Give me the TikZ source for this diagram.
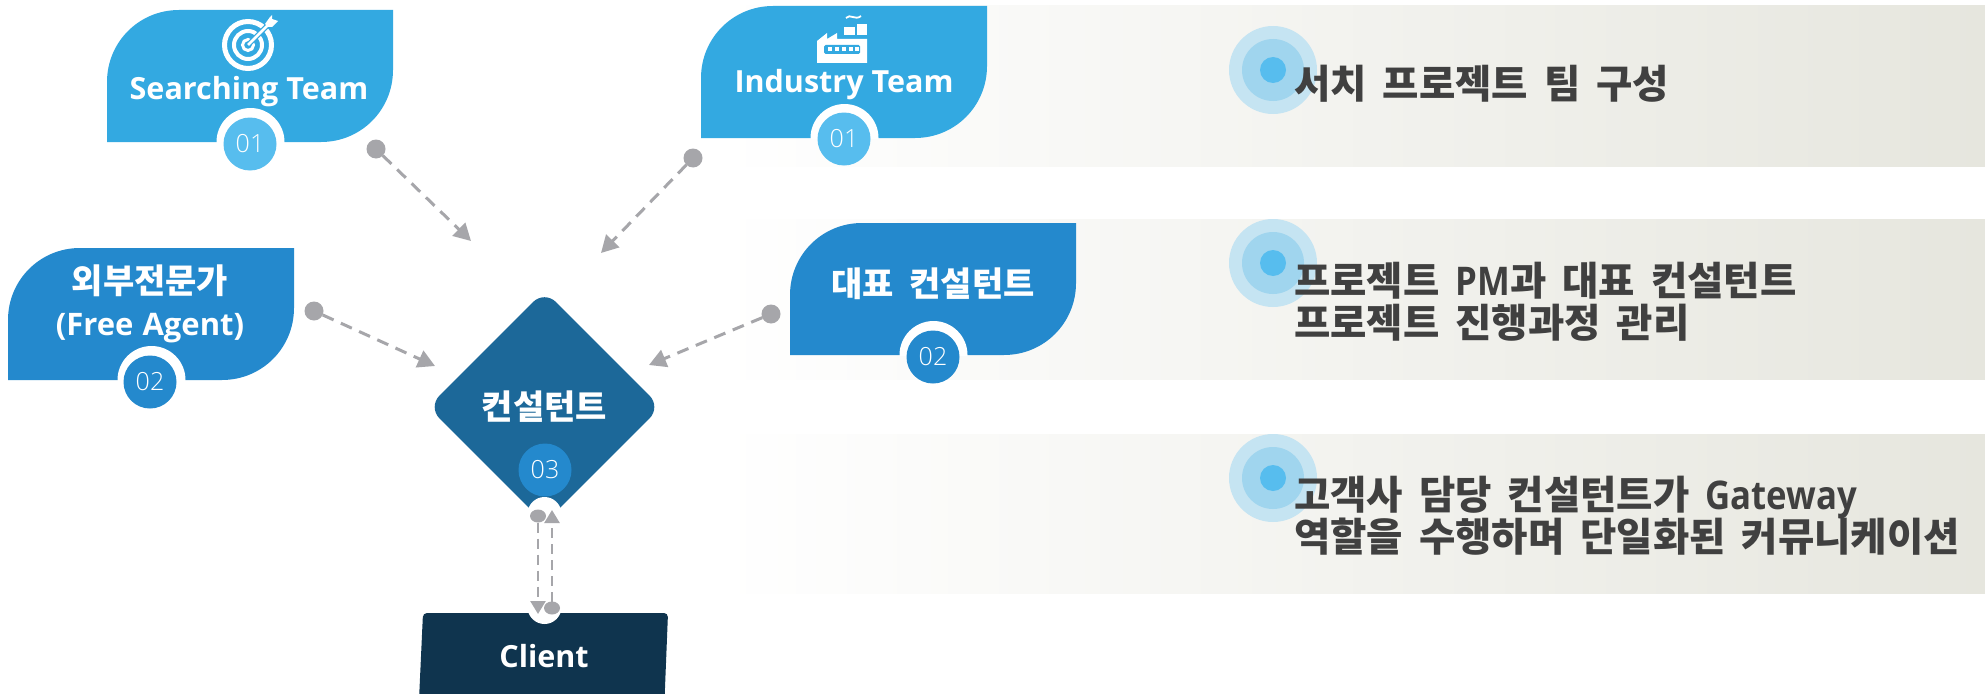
\documentclass[tikz,border=0pt]{standalone}
\usepackage{fontspec}
\setmainfont{Open Sans}
\newfontfamily\kr{Noto Sans CJK KR}
\newfontfamily\en{Open Sans}[FakeStretch=0.88]
\newfontfamily\thinf{Open Sans Light}
\usetikzlibrary{shapes.geometric,arrows.meta}
\definecolor{cardlight}{HTML}{33A9E1}
\definecolor{carddark}{HTML}{2489CD}
\definecolor{badgelight}{HTML}{57BDEE}
\definecolor{consult}{HTML}{1C6899}
\definecolor{clientc}{HTML}{0F344E}
\definecolor{linkc}{HTML}{A6A6AA}
\definecolor{bartext}{HTML}{404040}
\definecolor{barend}{HTML}{E6E6DE}
\definecolor{barmid}{HTML}{F2F2EE}
\definecolor{ringa}{HTML}{C5E4F2}
\definecolor{ringb}{HTML}{A0D5EE}
\newcommand{\titlefont}{\bfseries\fontsize{30.5}{42}\selectfont\setlength{\lineskiplimit}{-100pt}}
\newcommand{\krtitlefont}{\bfseries\fontsize{34}{42}\selectfont\setlength{\spaceskip}{16pt}\setlength{\lineskiplimit}{-100pt}}
\newcommand{\barfont}{\bfseries\fontsize{39.5}{42}\selectfont\setlength{\spaceskip}{16pt}\setlength{\lineskiplimit}{-100pt}}
\tikzset{
  x=1pt,y=-1pt,
  cardtitle/.style={text=white,font=\titlefont,align=center,inner sep=0pt},
  krtitle/.style={cardtitle,font=\krtitlefont},
  badge/.style={circle,minimum size=53pt,inner sep=0pt,text=white,font=\thinf\fontsize{25}{28}\selectfont},
  dot/.style={circle,fill=linkc,minimum size=19pt,inner sep=0pt,outer sep=0pt},
  smalldot/.style={ellipse,fill=linkc,minimum width=16pt,minimum height=13pt,inner sep=0pt,outer sep=0pt},
  link/.style={draw=linkc,line width=3pt,dash pattern=on 12pt off 8pt,-{Triangle[length=17pt,width=18pt,fill=linkc]}},
  vlink/.style={draw=linkc,line width=2.6pt,dash pattern=on 10pt off 6pt,-{Triangle[length=13pt,width=15pt,fill=linkc]}},
  bar/.style={left color=white,middle color=barmid,right color=barend},
  bartxt/.style={text=bartext,anchor=west,align=left,inner sep=0pt,font=\barfont},
}
% #1 x, #2 y, #3 colour
\newcommand{\cardshape}[3]{%
  \begin{scope}[shift={(#1,#2)}]
    \fill[#3] (0,132) -- (0,72) .. controls (0,32) and (32,0) .. (72,0) -- (286,0) -- (286,60)
      .. controls (286,100) and (254,132) .. (214,132) -- cycle;
    \begin{scope}
      \clip (0,0) rectangle (286,132);
      \fill[white] (143.5,132) circle[radius=34];
    \end{scope}
  \end{scope}}
\newcommand{\rings}[2]{%
  \fill[ringa] (#1,#2) circle[radius=44];
  \fill[ringb] (#1,#2) circle[radius=31];
  \fill[badgelight] (#1,#2) circle[radius=13];}
\begin{document}
\begin{tikzpicture}
\useasboundingbox (0,0) rectangle (1985,693);
\fill[white] (0,0) rectangle (1985,693);
% bars
\shade[bar] (720,6) rectangle (1985,166);
\shade[bar] (720,219) rectangle (1985,379);
\shade[bar] (720,434) rectangle (1985,593);
\rings{1273}{70}
\rings{1273}{263}
\rings{1273}{478}
\node[bartxt] (t1) at (1294,84) {\kr 서치 프로젝트 팀 구성};
\node[bartxt] (t2) at (1294,302) {\kr 프로젝트 {\en PM}과 대표 컨설턴트\\\kr 프로젝트 진행과정 관리};
\node[bartxt] (t3) at (1294,516) {\kr 고객사 담당 컨설턴트가 {\en Gateway}\\\kr 역할을 수행하며 단일화된 커뮤니케이션};
% cards
\cardshape{107}{10}{cardlight}
\cardshape{8}{248}{carddark}
\cardshape{701}{6}{cardlight}
\cardshape{790}{223}{carddark}
\node[cardtitle] (searching) at (249,92) {Searching Team};
\node[krtitle] (freeagent) at (150,304) {{\kr 외부전문가}\\{\fontsize{31}{42}\selectfont\setlength{\spaceskip}{9pt}(Free Agent)}};
\node[cardtitle] (industry) at (844,85) {Industry Team};
\node[krtitle] (rep) at (933,284) {\kr 대표 컨설턴트};
\node[badge,fill=badgelight] (b1) at (250,144) {01};
\node[badge,fill=carddark] (b2) at (150,382) {02};
\node[badge,fill=badgelight] (b3) at (844,139) {01};
\node[badge,fill=carddark] (b4) at (933,357) {02};
% target icon
\draw[white,line width=5pt] (248,45) circle[radius=23.5];
\draw[white,line width=4pt] (248,45) circle[radius=14];
\draw[white,line width=3pt] (248,45) circle[radius=5.5];
\draw[cardlight,line width=5pt] (248,45) -- (270,23);
\draw[white,line width=2.5pt] (248,45) -- (270,23);
\fill[white] (265,24) -- (270,17) -- (272,15) -- (272,19) -- (278,21) -- (272,27) -- (268,27) -- cycle;
% factory icon
\fill[white] (817,63) -- (817,41) -- (827,33) -- (827,39) -- (837,33) -- (837,39) -- (867,39) -- (867,63) -- cycle;
\fill[white] (844,27) rectangle (855,35);
\fill[white] (857,24) rectangle (867,35);
\draw[white,line width=1.8pt] (846,18) .. controls (850,13) and (855,21) .. (861,16);
\fill[cardlight,rounded corners=1.5pt] (824,45) rectangle (860,54);
\foreach \wx in {828,835,842,849,855}{\fill[white] (\wx,47.5) rectangle +(3.6,4);}
% consultant
\node[diamond,aspect=1,fill=consult,minimum width=233pt,minimum height=233pt,inner sep=0pt,rounded corners=16pt,
  text=white,font=\bfseries\fontsize{34}{40}\selectfont] (consultant) at (544.5,407) {\kr 컨설턴트};
\fill[white] (544.5,514) circle[radius=17];
\node[badge,fill=carddark] (b5) at (545,470) {03};
% client
\fill[clientc,rounded corners=4pt] (423,613) -- (668,613) -- (664.5,700) -- (419,700) -- cycle;
\fill[white] (544.5,607) circle[radius=17];
\node[text=white,font=\bfseries\fontsize{30.5}{34}\selectfont,inner sep=0pt] (client) at (544,656) {Client};
% connectors
\node[dot] (d1) at (376,149) {};
\node[dot] (d2) at (314,311) {};
\node[dot] (d3) at (693,158) {};
\node[dot] (d4) at (771,314) {};
\node[smalldot] (d5) at (538,516) {};
\node[smalldot] (d6) at (552,608) {};
\coordinate (e1) at (471,241);
\coordinate (e2) at (435,366);
\coordinate (e3) at (601,253);
\coordinate (e4) at (649,365);
\coordinate (e5) at (538,614);
\coordinate (e6) at (552,510);
\draw[link] (d1) -- (e1);
\draw[link] (d2) -- (e2);
\draw[link] (d3) -- (e3);
\draw[link] (d4) -- (e4);
\draw[vlink] (d5) -- (e5);
\draw[vlink] (d6) -- (e6);
\end{tikzpicture}
\end{document}
